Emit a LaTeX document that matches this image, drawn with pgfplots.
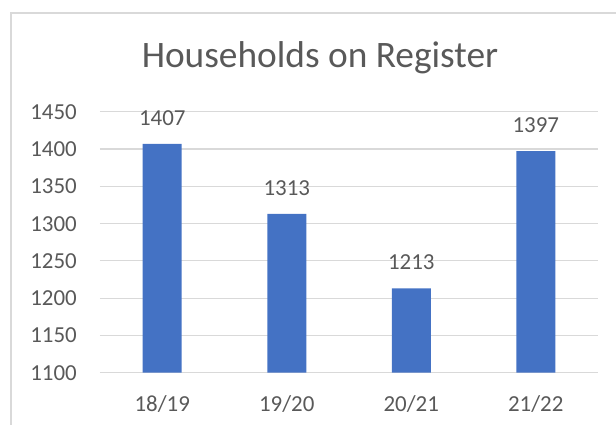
\documentclass[border=0pt]{standalone}
\usepackage{fontspec}
\setmainfont{Carlito}
\usepackage{pgfplots}
\pgfplotsset{compat=1.18}
\definecolor{barblue}{HTML}{4472C4}
\definecolor{txtgray}{HTML}{595959}
\definecolor{gridgray}{HTML}{D9D9D9}
\begin{document}
\begin{tikzpicture}
\path[use as bounding box] (-100bp,-52.3bp) rectangle (516bp,372.7bp);
\draw[gridgray, line width=1.2bp] (-89bp,-60bp) -- (-89bp,359.7bp) -- (530bp,359.7bp);
\begin{axis}[
  at={(0,0)}, anchor=south west,
  scale only axis,
  width=498bp, height=261bp,
  ybar, bar width=39bp,
  xmin=-0.5, xmax=3.5,
  ymin=1100, ymax=1450,
  xtick={0,1,2,3},
  xticklabels={18/19,19/20,20/21,21/22},
  ytick={1100,1150,...,1450},
  scaled y ticks=false,
  ymajorgrids,
  grid style={gridgray, line width=1.2bp},
  axis line style={draw=none},
  major tick length=0pt,
  /pgf/number format/assume math mode=true,
  /pgf/number format/1000 sep={},
  tick label style={font=\fontsize{23}{27}\selectfont, text=txtgray, inner sep=0pt},
  yticklabel style={anchor=base east, xshift=-23bp, yshift=-7.5bp},
  xticklabel style={anchor=base, yshift=-39bp},
  nodes near coords,
  nodes near coords style={font=\fontsize{23}{27}\selectfont, text=txtgray, anchor=base, inner sep=0pt, yshift=18.5bp},
  clip=false,
]
\addplot[fill=barblue, draw=none] coordinates {(0,1407) (1,1313) (2,1213) (3,1397)};
\end{axis}
\node[anchor=base, inner sep=0pt, text=txtgray, font=\fontsize{37.5}{43}\selectfont] at (220bp,305.4bp) {Households on Register};
\end{tikzpicture}
\end{document}
